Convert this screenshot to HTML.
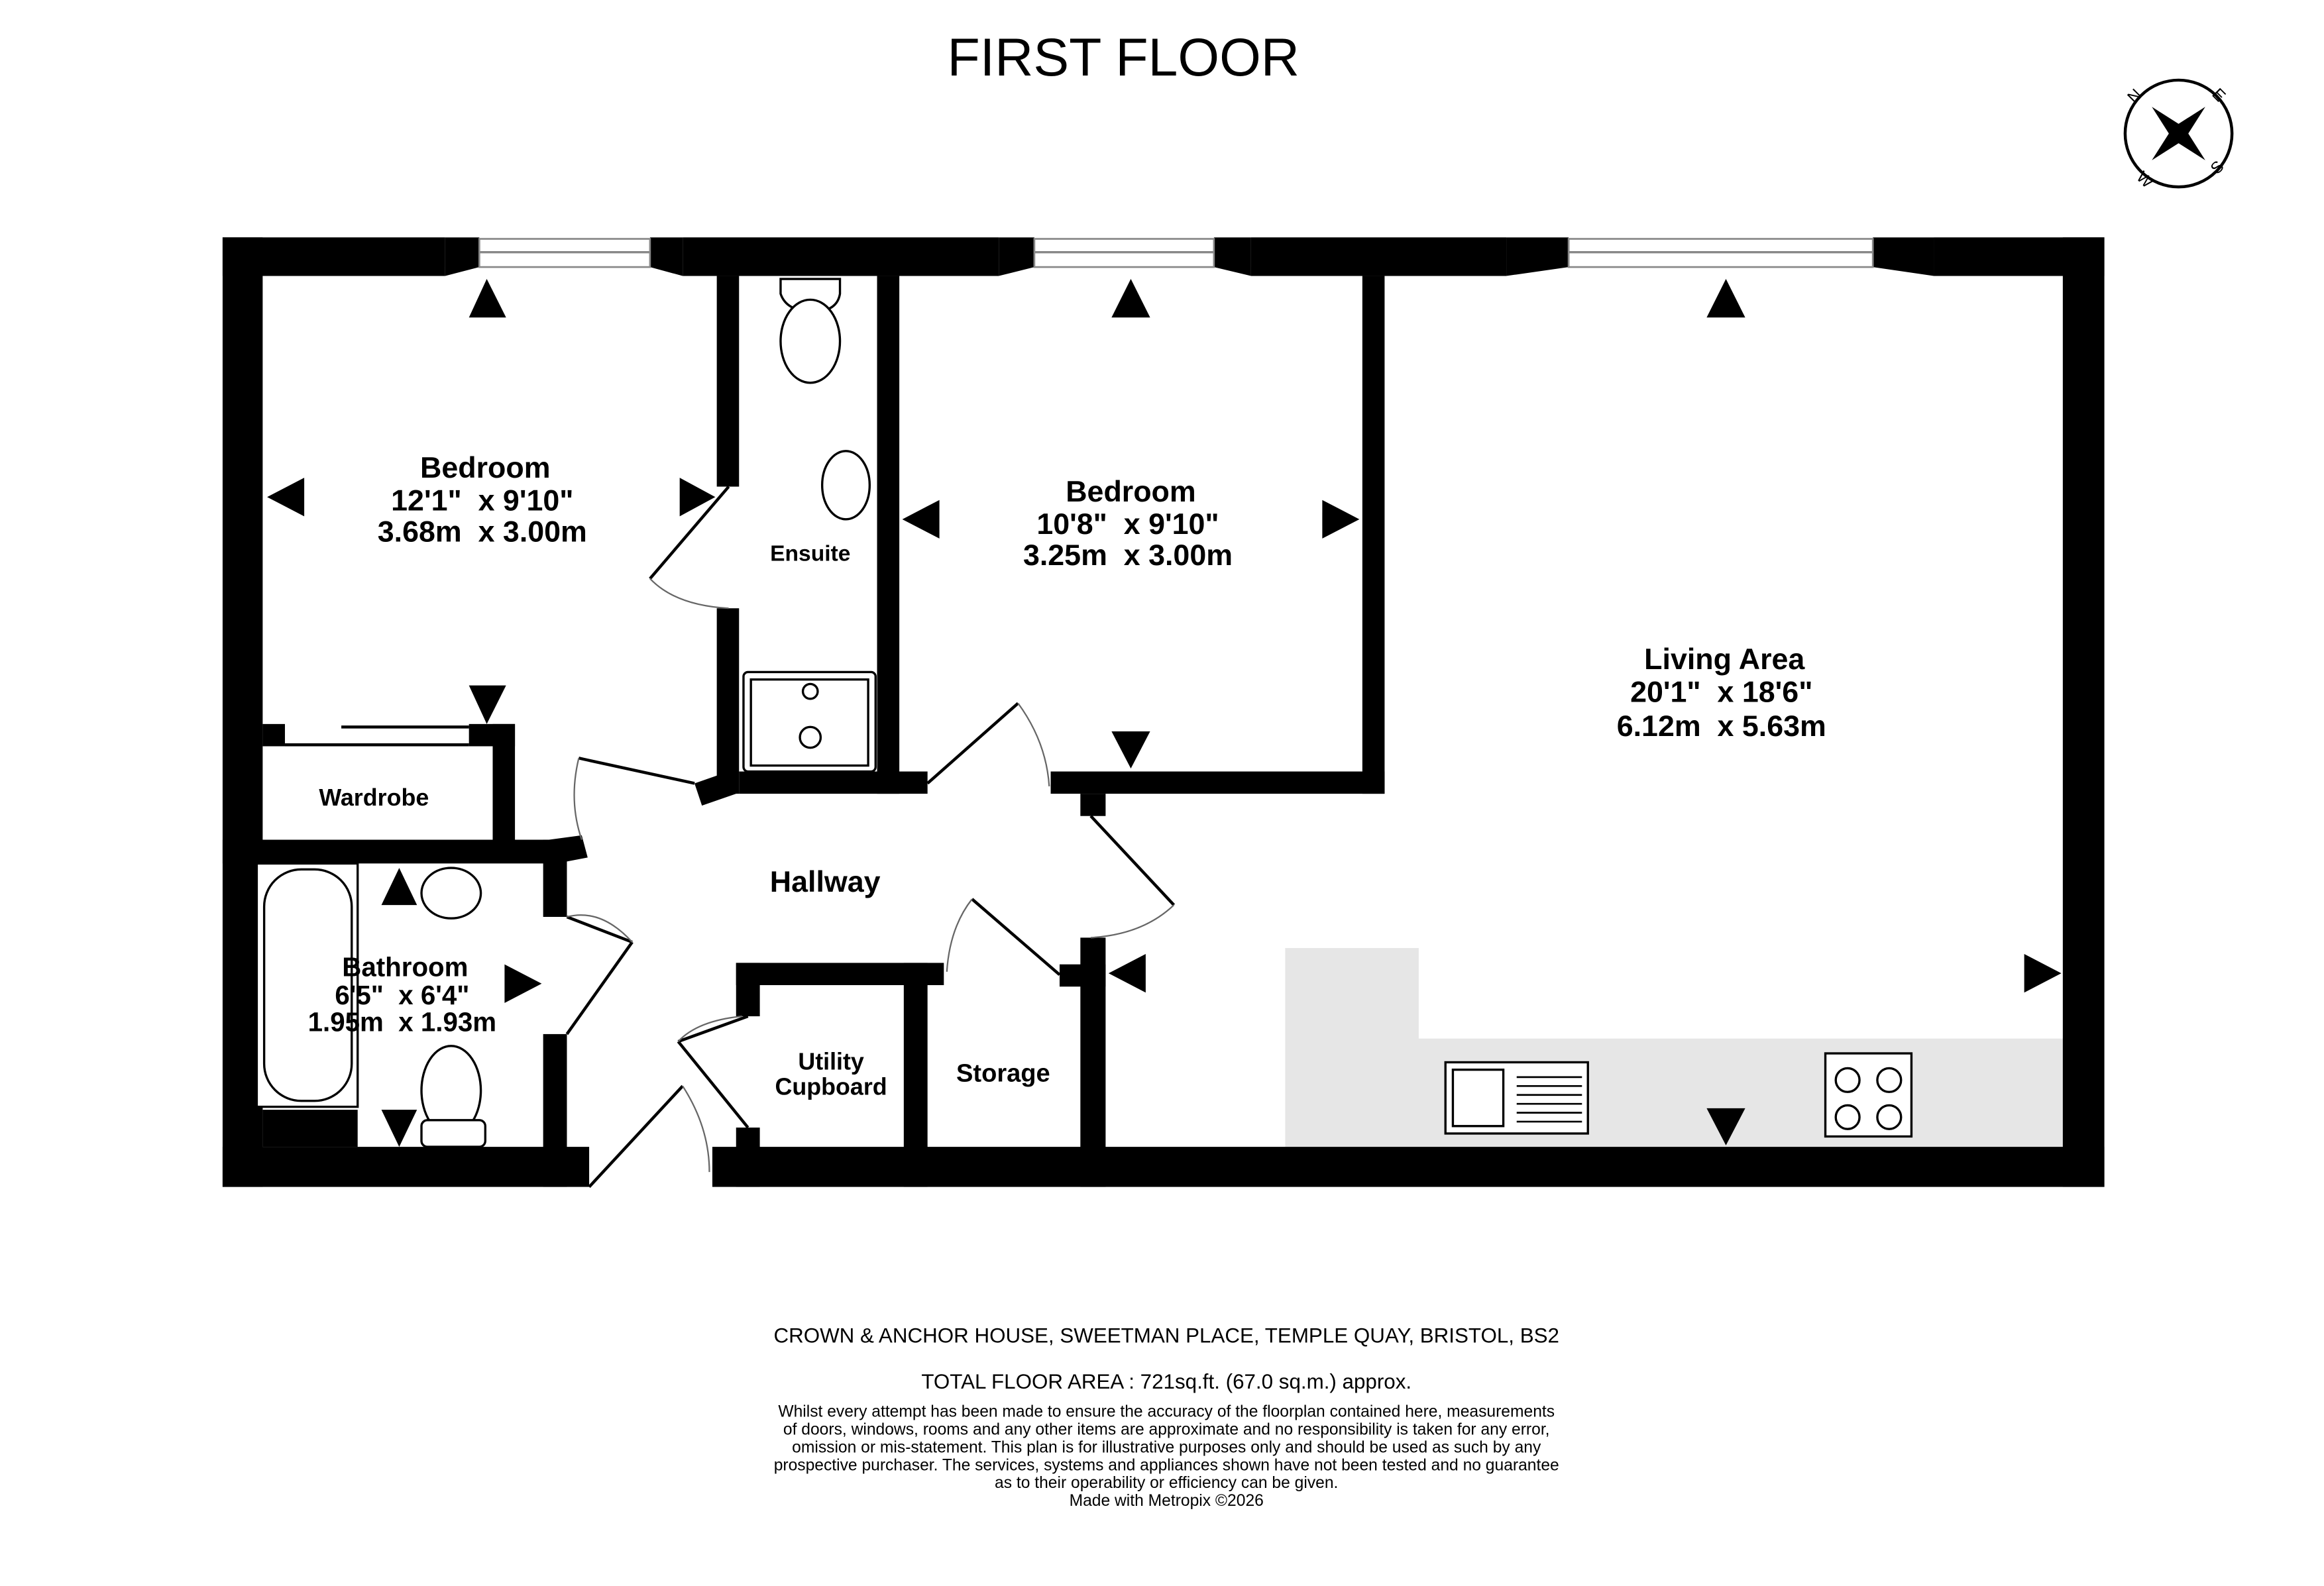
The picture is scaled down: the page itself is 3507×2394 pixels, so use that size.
<!DOCTYPE html>
<html><head><meta charset="utf-8"><style>
html,body{margin:0;padding:0;background:#fff;}
svg{display:block;}
text{font-family:"Liberation Sans",sans-serif;white-space:pre;}
</style></head><body>
<svg width="3507" height="2394" viewBox="0 0 1566 1069" preserveAspectRatio="none" xmlns="http://www.w3.org/2000/svg" xml:space="preserve">
<rect width="1566" height="1069" fill="#fff"/>
<text x="757" y="51" font-size="36" text-anchor="middle">FIRST FLOOR</text>
<circle cx="1468" cy="90" r="36" fill="none" stroke="#000" stroke-width="2"/>
<polygon points="1450,72 1472,86 1486,108 1464,94" fill="#000"/>
<polygon points="1486,72 1472,94 1450,108 1464,86" fill="#000"/>
<text x="1438" y="70" font-size="11" transform="rotate(-45 1438 70)">N</text>
<text x="1490" y="64" font-size="11" transform="rotate(45 1490 64)">E</text>
<text x="1494" y="118" font-size="11" transform="rotate(-45 1494 118)">S</text>
<text x="1439" y="120" font-size="11" transform="rotate(45 1439 120)">W</text>
<polygon points="866,639 956,639 956,700 1390,700 1390,773 866,773" fill="#e6e6e6"/>
<g fill="#000">
<rect x="150" y="160" width="150" height="26"/>
<polygon points="300,160 323,160 323,180 300,186"/>
<polygon points="438,160 460,160 460,186 438,180"/>
<rect x="460" y="160" width="213" height="26"/>
<polygon points="673,160 697,160 697,180 673,186"/>
<polygon points="818,160 843,160 843,186 818,180"/>
<rect x="843" y="160" width="172" height="26"/>
<polygon points="1015,160 1057,160 1057,180 1015,186"/>
<polygon points="1262,160 1303,160 1303,186 1262,180"/>
<rect x="1303" y="160" width="115" height="26"/>
<rect x="150" y="160" width="27" height="640"/>
<rect x="1390" y="160" width="28" height="640"/>
<rect x="150" y="773" width="247" height="27"/>
<rect x="480" y="773" width="938" height="27"/>
<rect x="483" y="186" width="15" height="142"/>
<rect x="483" y="410" width="15" height="125"/>
<rect x="591" y="186" width="15" height="349"/>
<rect x="498" y="520" width="127" height="15"/>
<polygon points="468,528 491,520 496,535 473,543"/>
<rect x="918" y="186" width="15" height="349"/>
<rect x="708" y="520" width="225" height="15"/>
<rect x="728" y="535" width="17" height="15"/>
<rect x="177" y="488" width="15" height="15"/>
<rect x="316" y="488" width="31" height="15"/>
<rect x="332" y="488" width="15" height="92"/>
<rect x="150" y="566" width="230" height="16"/>
<polygon points="370,566 392,563 396,578 375,582"/>
<rect x="366" y="566" width="16" height="52"/>
<rect x="366" y="697" width="16" height="103"/>
<rect x="177" y="748" width="64" height="25"/>
<rect x="496" y="649" width="140" height="15"/>
<rect x="496" y="649" width="16" height="36"/>
<rect x="496" y="760" width="16" height="40"/>
<rect x="609" y="649" width="16" height="151"/>
<rect x="728" y="632" width="17" height="168"/>
<rect x="714" y="650" width="31" height="15"/>
<polygon points="328,188 316,214 341,214"/>
<polygon points="762,188 749,214 775,214"/>
<polygon points="1163,188 1150,214 1176,214"/>
<polygon points="180,335 205,322 205,348"/>
<polygon points="482,335 458,322 458,348"/>
<polygon points="608,350 633,337 633,363"/>
<polygon points="916,350 891,337 891,363"/>
<polygon points="328,488 316,462 341,462"/>
<polygon points="762,518 749,493 775,493"/>
<polygon points="1163,772 1150,747 1176,747"/>
<polygon points="1389,656 1364,643 1364,669"/>
<polygon points="747,656 772,643 772,669"/>
<polygon points="269,585 257,610 281,610"/>
<polygon points="269,773 257,748 281,748"/>
<polygon points="180,663 205,650 205,676"/>
<polygon points="365,663 340,650 340,676"/>
</g>
<g fill="#fff" stroke="#888" stroke-width="1.2">
<rect x="323" y="161" width="115" height="19"/>
<rect x="697" y="161" width="121" height="19"/>
<rect x="1057" y="161" width="205" height="19"/>
</g>
<g stroke="#888" stroke-width="1.5"><line x1="323" y1="170" x2="438" y2="170"/><line x1="697" y1="170" x2="818" y2="170"/><line x1="1057" y1="170" x2="1262" y2="170"/></g>
<g stroke="#000" stroke-width="2" fill="none">
<line x1="491" y1="328" x2="438" y2="390"/>
<line x1="468" y1="528" x2="390" y2="511"/>
<line x1="625" y1="528" x2="686" y2="474"/>
<line x1="735" y1="550" x2="791" y2="610"/>
<line x1="655" y1="606" x2="714" y2="657"/>
<line x1="382" y1="618" x2="426" y2="635"/>
<line x1="426" y1="635" x2="382" y2="697"/>
<line x1="504" y1="685" x2="457" y2="702"/>
<line x1="457" y1="702" x2="504" y2="760"/>
<line x1="397" y1="800" x2="460" y2="732"/>
<line x1="192" y1="502" x2="316" y2="502"/>
<line x1="230" y1="490" x2="316" y2="490"/>
</g>
<g stroke="#666" stroke-width="1" fill="none">
<path d="M438,390 Q455,408 491,410"/>
<path d="M390,511 Q383,540 392,566"/>
<path d="M686,474 Q705,500 707,530"/>
<path d="M791,610 Q770,630 735,632"/>
<path d="M655,606 Q640,625 638,655"/>
<path d="M426,635 Q405,612 382,618"/>
<path d="M457,702 Q470,688 500,685"/>
<path d="M460,732 Q478,760 478,790"/>
</g>
<g stroke="#000" stroke-width="1.5" fill="#fff">
<path d="M526,188 h40 v10 q-2,12 -18,12 q-18,0 -22,-12z"/>
<ellipse cx="546" cy="230" rx="20" ry="28"/>
<ellipse cx="570" cy="327" rx="16" ry="23"/>
<rect x="501" y="453" width="89" height="67" rx="3"/>
<rect x="506" y="458" width="79" height="58"/>
<circle cx="546" cy="466" r="5"/>
<circle cx="546" cy="497" r="7"/>
<rect x="173" y="582" width="68" height="164"/>
<rect x="178" y="586" width="59" height="156" rx="25"/>
<ellipse cx="304" cy="602" rx="20" ry="17"/>
<ellipse cx="304" cy="735" rx="20" ry="30"/>
<rect x="284" y="755" width="43" height="18" rx="4"/>
<rect x="974" y="716" width="96" height="48"/>
<rect x="979" y="721" width="34" height="38"/>
<rect x="1230" y="710" width="58" height="56"/>
<circle cx="1245" cy="728" r="8"/><circle cx="1273" cy="728" r="8"/>
<circle cx="1245" cy="753" r="8"/><circle cx="1273" cy="753" r="8"/>
</g>
<g stroke="#000" stroke-width="1.2">
<line x1="1022" y1="726" x2="1066" y2="726"/><line x1="1022" y1="732" x2="1066" y2="732"/>
<line x1="1022" y1="738" x2="1066" y2="738"/><line x1="1022" y1="744" x2="1066" y2="744"/>
<line x1="1022" y1="750" x2="1066" y2="750"/><line x1="1022" y1="756" x2="1066" y2="756"/>
</g>
<g font-weight="bold" text-anchor="middle" font-size="20">
<text x="327" y="322">Bedroom</text>
<text x="325" y="344">12'1"  x 9'10"</text>
<text x="325" y="365">3.68m  x 3.00m</text>
<text x="762" y="338">Bedroom</text>
<text x="760" y="360">10'8"  x 9'10"</text>
<text x="760" y="381">3.25m  x 3.00m</text>
<text x="1162" y="451">Living Area</text>
<text x="1160" y="473">20'1"  x 18'6"</text>
<text x="1160" y="496">6.12m  x 5.63m</text>
<text x="556" y="601">Hallway</text>
<text x="273" y="658" font-size="18">Bathroom</text>
<text x="271" y="677" font-size="18">6'5"  x 6'4"</text>
<text x="271" y="695" font-size="18">1.95m  x 1.93m</text>
<text x="546" y="378" font-size="15">Ensuite</text>
<text x="252" y="543" font-size="16">Wardrobe</text>
<text x="560" y="721" font-size="16">Utility</text>
<text x="560" y="738" font-size="16">Cupboard</text>
<text x="676" y="729" font-size="17">Storage</text>
</g>
<g text-anchor="middle">
<text x="786" y="905" font-size="14">CROWN &amp; ANCHOR HOUSE, SWEETMAN PLACE, TEMPLE QUAY, BRISTOL, BS2</text>
<text x="786" y="936" font-size="14">TOTAL FLOOR AREA : 721sq.ft. (67.0 sq.m.) approx.</text>
<g font-size="11">
<text x="786" y="955">Whilst every attempt has been made to ensure the accuracy of the floorplan contained here, measurements</text>
<text x="786" y="967">of doors, windows, rooms and any other items are approximate and no responsibility is taken for any error,</text>
<text x="786" y="979">omission or mis-statement. This plan is for illustrative purposes only and should be used as such by any</text>
<text x="786" y="991">prospective purchaser. The services, systems and appliances shown have not been tested and no guarantee</text>
<text x="786" y="1003">as to their operability or efficiency can be given.</text>
<text x="786" y="1015">Made with Metropix ©2026</text>
</g></g>
</svg>
</body></html>
